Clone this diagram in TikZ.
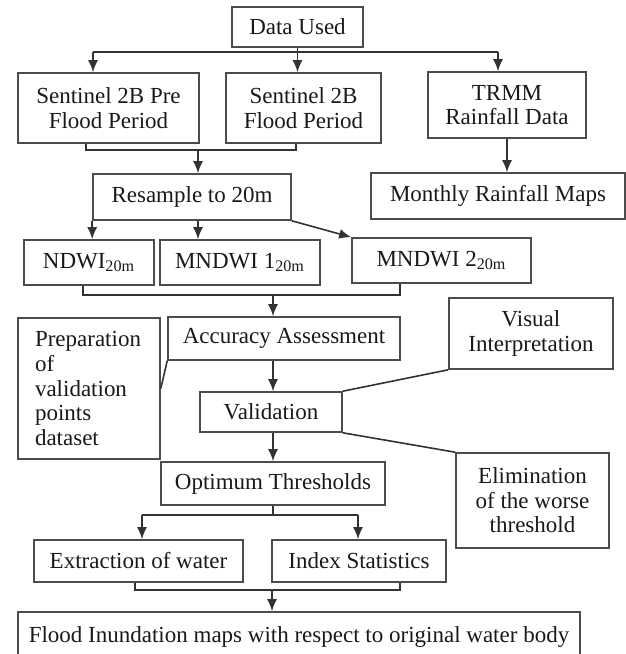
\documentclass[tikz,border=0pt]{standalone}
\usepackage{fontspec}
\setmainfont{Liberation Serif}
\usetikzlibrary{positioning,arrows.meta}
\tikzset{
    module/.style={%
        draw=black!70, line width=0.8pt,
        minimum width=#1,
        minimum height=21pt,
        align=center,
        text=black!90,
        font=\fontsize{11.5}{12.3}\selectfont
    },
    module/.default=2cm,
    >={LaTeX[length=6pt,width=5pt]}
}

\begin{document}
\begin{tikzpicture}[x=0.5pt, y=-0.5pt, line width=0.8pt, color=black!80]
                \useasboundingbox (0,0) rectangle (626,654);
                \node[module=65.5pt, minimum height=20pt] (used) at (297.5,27) {Data Used};
                \node[module=90.5pt, minimum height=35pt] (pre) at (108.5,108) {Sentinel 2B Pre\\Flood Period};
                \node[module=77.5pt, minimum height=35pt, right=12.7pt of pre] (flood) {Sentinel 2B\\Flood Period};
                \node[module=79pt, minimum height=33pt] (trmm) at (507,105) {TRMM\\Rainfall Data};
                \node[module=99pt, minimum height=23pt] (resample) at (192,197) {Resample to 20m};
                \node[module=127pt, minimum height=23pt] (monthly) at (498,196) {Monthly Rainfall Maps};
                \node[module=65pt, minimum height=22.5pt] (ndwi) at (89,262.5) {NDWI\textsubscript{20m}};
                \node[module=80pt, minimum height=22.5pt, right=2.2pt of ndwi] (mndwi1) {MNDWI 1\textsubscript{20m}};
                \node[module=89.5pt, minimum height=22.5pt] (mndwi2) at (441.5,260.5) {MNDWI 2\textsubscript{20m}};
                \node[module=71pt, minimum height=70.5pt, text width=54pt, align=left] (prep) at (89,388.5) {Preparation\\of\\validation\\points\\dataset};
                \node[module=116pt, minimum height=21.5pt] (acc) at (284,338.5) {Accuracy Assessment};
                \node[module=82pt, minimum height=35.5pt] (visual) at (531,333.5) {Visual\\Interpretation};
                \node[module=71pt, minimum height=20pt] (valid) at (271,412) {Validation};
                \node[module=76.5pt, minimum height=47.5pt] (elim) at (532.5,500.5) {Elimination\\of the worse\\threshold};
                \node[module=112pt, minimum height=21.5pt] (opt) at (273,483.5) {Optimum Thresholds};
                \node[module=104.5pt, minimum height=21pt] (extr) at (138.5,561) {Extraction of water};
                \node[module=87pt, minimum height=21pt, right=13.7pt of extr] (index) {Index Statistics};
                \node[module=281pt, minimum height=25pt] (inund) at (299,637) {Flood Inundation maps with respect to original water body};

                \coordinate (s1) at (93,52);
                \coordinate (s3) at (498,52);
                \draw (used) -- (used |- s1);
                \draw (s1) -- (s3);
                \draw[->] (s1) -- (s1 |- pre.north);
                \draw[->] (used |- s1) -- (used |- flood.north);
                \draw[->] (s3) -- (s3 |- trmm.north);

                \coordinate (b1) at (86,150);
                \coordinate (b2) at (296,150);
                \coordinate (b0) at (198,150);
                \draw (b1 |- pre.south) -- (b1) -- (b2) -- (b2 |- flood.south);
                \draw[->] (b0) -- (b0 |- resample.north);
                \draw[->] (trmm) -- (trmm |- monthly.north);

                \draw[->] (resample.south west) -- (resample.south west |- ndwi.north);
                \draw[->] (b0 |- resample.south) -- (b0 |- mndwi1.north);
                \draw[->] (resample.south east) -- (mndwi2.north west);

                \coordinate (c1) at (83,295);
                \coordinate (c2) at (400,295);
                \coordinate (c0) at (273,295);
                \draw (c1 |- ndwi.south) -- (c1) -- (c2) -- (c2 |- mndwi2.south);
                \draw[->] (c0) -- (c0 |- acc.north);
                \draw[->] (c0 |- acc.south) -- (c0 |- valid.north);
                \draw[->] (c0 |- valid.south) -- (c0 |- opt.north);
                \draw (acc.south west) -- (prep.east);
                \draw (valid.north east) -- (visual.south west);
                \draw (valid.south east) -- (elim.north west);

                \coordinate (d1) at (142,515);
                \coordinate (d2) at (358,515);
                \draw (opt) -- (opt |- d1);
                \draw (d1) -- (d2);
                \draw[->] (d1) -- (d1 |- extr.north);
                \draw[->] (d2) -- (d2 |- index.north);

                \coordinate (e1) at (135,590);
                \coordinate (e2) at (400,590);
                \coordinate (e0) at (272,590);
                \draw (e1 |- extr.south) -- (e1) -- (e2) -- (e2 |- index.south);
                \draw[->] (e0) -- (e0 |- inund.north);
\end{tikzpicture}
\end{document}
